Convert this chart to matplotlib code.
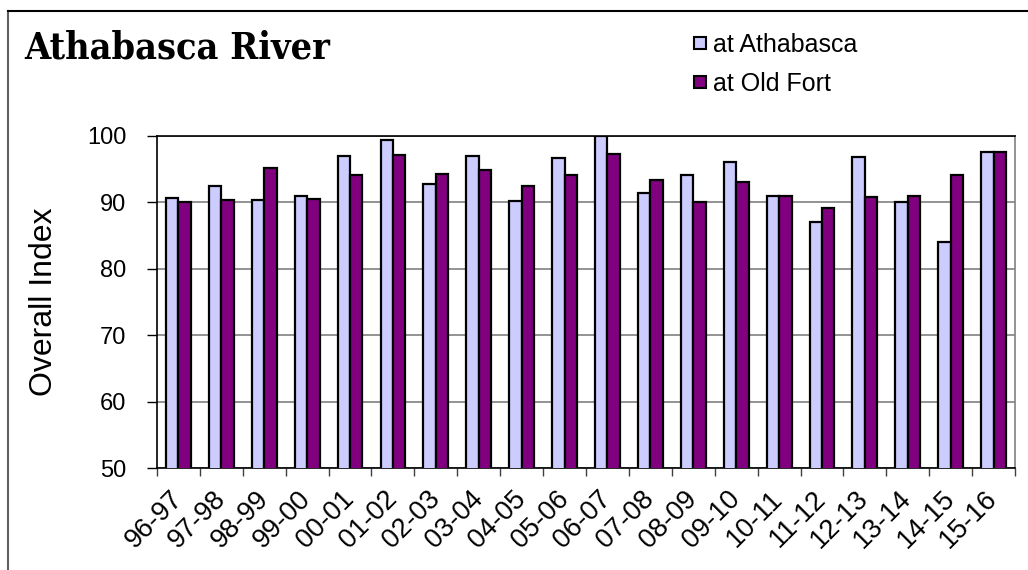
import numpy as np
import matplotlib
matplotlib.use("Agg")
import matplotlib.pyplot as plt
from matplotlib.lines import Line2D

# data
seasons = ["96-97", "97-98", "98-99", "99-00", "00-01", "01-02", "02-03",
           "03-04", "04-05", "05-06", "06-07", "07-08", "08-09", "09-10",
           "10-11", "11-12", "12-13", "13-14", "14-15", "15-16"]
at_athabasca = [90.7, 92.5, 90.4, 91.0, 96.9, 99.3, 92.7, 96.9, 90.2, 96.6,
                100.0, 91.4, 94.1, 96.0, 91.0, 87.0, 96.8, 90.0, 84.0, 97.6]
at_old_fort = [90.0, 90.4, 95.2, 90.5, 94.1, 97.1, 94.2, 94.9, 92.5, 94.1,
               97.3, 93.4, 90.0, 93.0, 91.0, 89.1, 90.8, 91.0, 94.1, 97.5]
y_ticks = [50, 60, 70, 80, 90, 100]

sans = "Liberation Sans"

fig = plt.figure(figsize=(10.28, 5.70), dpi=100)
ax = fig.add_axes([0.1527, 0.1784, 0.8347, 0.5835])

x = np.arange(len(seasons))
w = 0.29
ax.bar(x - w / 2, at_athabasca, w, color="#CCCCFF", edgecolor="black",
       linewidth=1.6, label="at Athabasca", zorder=3)
ax.bar(x + w / 2, at_old_fort, w, color="#800080", edgecolor="black",
       linewidth=1.6, label="at Old Fort", zorder=3)

ax.set_xlim(-0.5, len(seasons) - 0.5)
ax.set_ylim(50, 100)
ax.set_yticks(y_ticks)
ax.set_yticklabels([str(v) for v in y_ticks], fontsize=17, family=sans)
ax.yaxis.grid(True, color="#808080", linewidth=1.2, zorder=0)

# ticks between categories, labels at the centres
ax.set_xticks(np.arange(-0.5, len(seasons), 1.0))
ax.set_xticklabels([])
ax.set_xticks(x, minor=True)
ax.set_xticklabels(seasons, minor=True, rotation=45, ha="right",
                   va="center", rotation_mode="anchor", fontsize=19.5,
                   family=sans)
ax.tick_params(axis="x", which="minor", length=0, pad=19)
ax.tick_params(axis="x", which="major", length=6, width=1, color="#404040",
               direction="out")
ax.tick_params(axis="y", length=7, width=1, direction="out", pad=15)

for side in ["left", "bottom", "top"]:
    ax.spines[side].set_color("black")
    ax.spines[side].set_linewidth(1.2)
ax.spines["right"].set_color("#808080")
ax.spines["right"].set_linewidth(1.2)

ax.set_ylabel("Overall Index", fontsize=23, family=sans, labelpad=20)

fig.text(0.024, 0.915, "Athabasca River", fontsize=27, fontweight="bold",
         family="DejaVu Serif", fontstretch="condensed", va="center",
         ha="left")

handles = [
    Line2D([0], [0], marker="s", linestyle="None", markersize=8,
           markerfacecolor="#CCCCFF", markeredgecolor="black",
           markeredgewidth=1.5, label="at Athabasca"),
    Line2D([0], [0], marker="s", linestyle="None", markersize=8,
           markerfacecolor="#800080", markeredgecolor="black",
           markeredgewidth=1.5, label="at Old Fort"),
]
fig.legend(handles=handles, loc="upper left", bbox_to_anchor=(0.652, 0.982),
           frameon=False, handlelength=0.6, handletextpad=0.2,
           labelspacing=0.6, prop={"family": sans, "size": 18})

# outer chart frame (left and top edges visible)
fig.add_artist(Line2D([0.0078, 0.0078], [0.0, 0.981], color="#606060",
                      linewidth=1.5, transform=fig.transFigure))
fig.add_artist(Line2D([0.0078, 1.0], [0.981, 0.981], color="black",
                      linewidth=1.5, transform=fig.transFigure))

fig.savefig("out.png", dpi=100)
